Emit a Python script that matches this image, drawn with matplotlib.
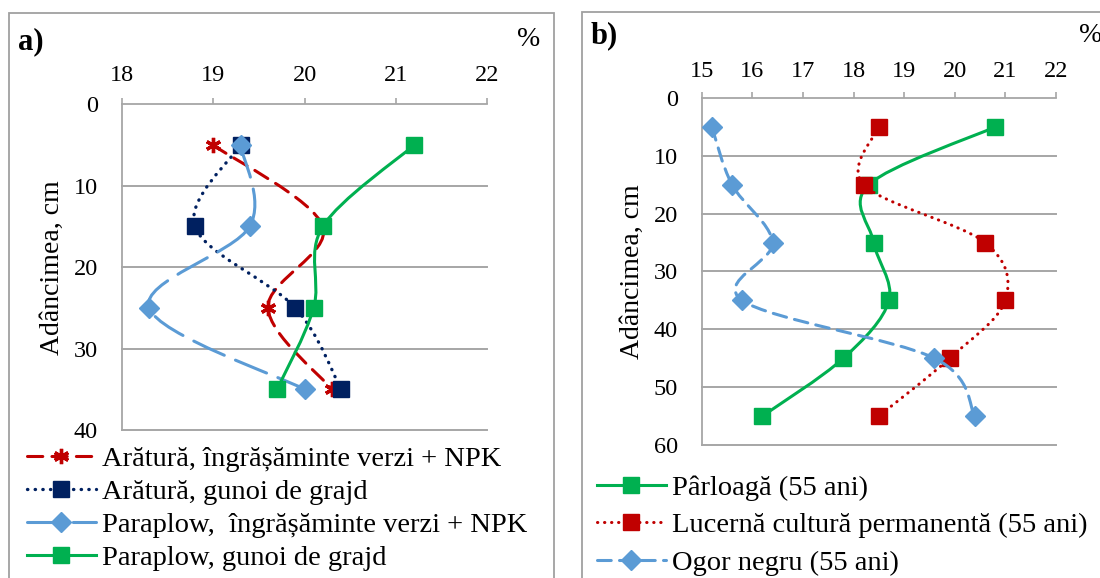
import numpy as np
import matplotlib
matplotlib.use("Agg")
import matplotlib.pyplot as plt
from matplotlib.path import Path
from matplotlib.patches import PathPatch, Rectangle
from matplotlib.lines import Line2D

plt.rcParams['font.family'] = ['Liberation Serif', 'DejaVu Serif']

# ---------------- data ----------------
depth_a = [5, 15, 25, 35]
labels_a = ["Arătură, îngrășăminte verzi + NPK",
            "Arătură, gunoi de grajd",
            "Paraplow,  îngrășăminte verzi + NPK",
            "Paraplow, gunoi de grajd"]
arat_verzi = [19.0, 20.2, 19.6, 20.3]
arat_gunoi = [19.3, 18.8, 19.9, 20.4]
para_verzi = [19.3, 19.4, 18.3, 20.0]
para_gunoi = [21.2, 20.2, 20.1, 19.7]
xticks_a = [18, 19, 20, 21, 22]
yticks_a = [0, 10, 20, 30, 40]

depth_b = [5, 15, 25, 35, 45, 55]
labels_b = ["Pârloagă (55 ani)",
            "Lucernă cultură permanentă (55 ani)",
            "Ogor negru (55 ani)"]
parloaga = [20.8, 18.3, 18.4, 18.7, 17.8, 16.2]
lucerna = [18.5, 18.2, 20.6, 21.0, 19.9, 18.5]
ogor = [15.2, 15.6, 16.4, 15.8, 19.6, 20.4]
xticks_b = [15, 16, 17, 18, 19, 20, 21, 22]
yticks_b = [0, 10, 20, 30, 40, 50, 60]

RED = '#C00000'
NAVY = '#002060'
LBLUE = '#5B9BD5'
GREEN = '#00B050'
GRID = '#A6A6A6'
FS_TICK = 17.5
FS_LAB = 20
FS_LEG = 20.5

W, H = 1100, 578
fig = plt.figure(figsize=(W / 100, H / 100), dpi=100)


def fx(px):
    return px / W


def fy(py):
    return 1 - py / H


def smooth_patch(ax, xs, ys, **kw):
    pts = np.column_stack([xs, ys]).astype(float)
    n = len(pts)
    verts = [pts[0]]
    codes = [Path.MOVETO]
    for i in range(n - 1):
        p0 = pts[i - 1] if i > 0 else pts[i]
        p1 = pts[i]
        p2 = pts[i + 1]
        p3 = pts[i + 2] if i + 2 < n else pts[i + 1]
        c1 = p1 + (p2 - p0) / 6.0
        c2 = p2 - (p3 - p1) / 6.0
        verts += [c1, c2, p2]
        codes += [Path.CURVE4] * 3
    patch = PathPatch(Path(verts, codes), facecolor='none', **kw)
    ax.add_patch(patch)
    return patch


def setup_axes(ax, xlim, xticks, ylim, yticks, xpad, labx):
    ax.set_xlim(*xlim)
    ax.set_ylim(ylim[1], ylim[0])
    ax.xaxis.tick_top()
    ax.set_xticks(xticks)
    ax.set_yticks(yticks)
    for s in ['right', 'bottom']:
        ax.spines[s].set_visible(False)
    for s in ['left', 'top']:
        ax.spines[s].set_color(GRID)
        ax.spines[s].set_linewidth(1.3)
    ax.tick_params(axis='x', direction='out', length=4.5, width=1.2,
                   color=GRID, pad=xpad, labelsize=FS_TICK)
    ax.tick_params(axis='y', length=0, pad=17, labelsize=FS_TICK)
    for t in yticks[1:]:
        ax.axhline(t, color=GRID, lw=1.4, zorder=1, clip_on=False)
    ax.set_facecolor('none')
    ax.set_ylabel("Adâncimea, cm", fontsize=FS_LAB)
    ax.yaxis.set_label_coords(labx, 0.5)


def mew_for(mk):
    return 2.4 if mk == (6, 2, 0) else 1


# ---------------- panel a ----------------
axa = fig.add_axes([fx(121.7), fy(430), fx(487.3) - fx(121.7), fy(104.3) - fy(430)])
setup_axes(axa, (18, 22), xticks_a, (0, 40), yticks_a, 9, -0.155)

series_a = [
    (arat_verzi, RED, (0, (5, 3)), (6, 2, 0), 11, 2.2),
    (arat_gunoi, NAVY, (0, (0.1, 2.2)), 's', 11.5, 2.4),
    (para_verzi, LBLUE, (0, (11, 4)), 'D', 10.5, 2.2),
    (para_gunoi, GREEN, '-', 's', 12, 2.2),
]
handles_a = []
for k, (vals, col, ls, mk, ms, lw) in enumerate(series_a):
    z = 3 + k
    smooth_patch(axa, vals, depth_a, edgecolor=col, linewidth=lw,
                 linestyle=ls, capstyle='round' if ls != '-' else 'butt', zorder=z)
    axa.plot(vals, depth_a, linestyle='none', marker=mk, markersize=ms,
             color=col, markeredgecolor=col, markeredgewidth=mew_for(mk),
             zorder=z + 0.5, clip_on=False)
    handles_a.append(Line2D([], [], color=col, linestyle=ls, linewidth=lw,
                            marker=mk, markersize=ms, markeredgecolor=col,
                            markeredgewidth=mew_for(mk), dash_capstyle='round'))

fig.legend(handles_a, labels_a, loc='upper left',
           bbox_to_anchor=(fx(27), fy(446)), bbox_transform=fig.transFigure,
           frameon=False, fontsize=FS_LEG, borderpad=0, borderaxespad=0,
           handlelength=2.42, handletextpad=0.2, labelspacing=0.25)

fig.text(fx(18), fy(42), "a)", fontsize=22, fontweight='bold', va='center', ha='left')
fig.text(fx(529), fy(39), "%", fontsize=20, va='center', ha='center')

# ---------------- panel b ----------------
axb = fig.add_axes([fx(701.7), fy(445), fx(1055.9) - fx(701.7), fy(98) - fy(445)])
setup_axes(axb, (15, 22), xticks_b, (0, 60), yticks_b, 7, -0.16)

series_b = [
    (parloaga, GREEN, '-', 's', 11.5, 2.2),
    (lucerna, RED, (0, (0.1, 2.2)), 's', 11.5, 2.2),
    (ogor, LBLUE, (0, (4.5, 2.7)), 'D', 10, 2.2),
]
handles_b = []
for k, (vals, col, ls, mk, ms, lw) in enumerate(series_b):
    z = 3 + k
    smooth_patch(axb, vals, depth_b, edgecolor=col, linewidth=lw,
                 linestyle=ls, capstyle='round' if ls != '-' else 'butt', zorder=z)
    axb.plot(vals, depth_b, linestyle='none', marker=mk, markersize=ms,
             color=col, markeredgecolor=col, zorder=z + 0.5, clip_on=False)
    handles_b.append(Line2D([], [], color=col, linestyle=ls, linewidth=lw,
                            marker=mk, markersize=ms, markeredgecolor=col,
                            dash_capstyle='round'))

fig.legend(handles_b, labels_b, loc='upper left',
           bbox_to_anchor=(fx(597), fy(475)), bbox_transform=fig.transFigure,
           frameon=False, fontsize=FS_LEG, borderpad=0, borderaxespad=0,
           handlelength=2.42, handletextpad=0.2, labelspacing=0.4)

fig.text(fx(591), fy(36), "b)", fontsize=22, fontweight='bold', va='center', ha='left')
fig.text(fx(1079), fy(36), "%", fontsize=20, va='center', ha='left')

# ---------------- panel borders ----------------
fig.add_artist(Rectangle((fx(8.5), fy(590)), fx(554) - fx(8.5), fy(13) - fy(590),
                         transform=fig.transFigure, facecolor='none',
                         edgecolor='#A0A0A0', lw=1.3, clip_on=False))
fig.add_artist(Rectangle((fx(582), fy(590)), fx(1120) - fx(582), fy(12) - fy(590),
                         transform=fig.transFigure, facecolor='none',
                         edgecolor='#A0A0A0', lw=1.3, clip_on=False))

fig.savefig("out.png", dpi=100)
